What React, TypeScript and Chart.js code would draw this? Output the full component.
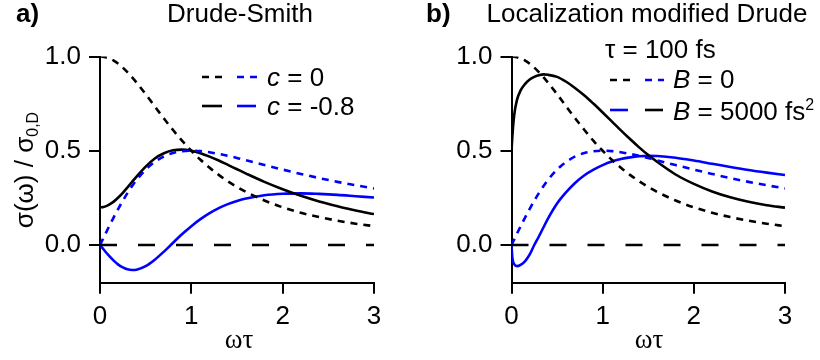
import React, { useEffect, useRef } from "react";
import { Chart, registerables } from "chart.js";

Chart.register(...registerables);

// ---- data ----
const omegaTau = [0, 0.01, 0.03, 0.06, 0.1, 0.15, 0.2, 0.25, 0.3, 0.35, 0.4, 0.5, 0.6, 0.7, 0.8, 0.9, 1.0, 1.1, 1.2, 1.3, 1.4, 1.5, 1.6, 1.8, 2.0, 2.2, 2.4, 2.6, 2.8, 3.0];

const drudeReal = [1.0, 1.0, 0.999, 0.996, 0.99, 0.978, 0.962, 0.941, 0.917, 0.891, 0.862, 0.8, 0.735, 0.671, 0.61, 0.552, 0.5, 0.452, 0.41, 0.372, 0.338, 0.308, 0.281, 0.236, 0.2, 0.171, 0.148, 0.129, 0.113, 0.1];
const drudeImag = [0, 0.01, 0.03, 0.06, 0.099, 0.147, 0.192, 0.235, 0.275, 0.312, 0.345, 0.4, 0.441, 0.47, 0.488, 0.497, 0.5, 0.498, 0.492, 0.483, 0.473, 0.462, 0.449, 0.424, 0.4, 0.377, 0.355, 0.335, 0.317, 0.3];

const smithReal = [0.2, 0.2, 0.201, 0.205, 0.214, 0.23, 0.252, 0.277, 0.305, 0.334, 0.363, 0.416, 0.459, 0.487, 0.503, 0.506, 0.5, 0.487, 0.469, 0.448, 0.425, 0.402, 0.379, 0.335, 0.296, 0.261, 0.231, 0.206, 0.183, 0.164];
const smithImag = [0, -0.006, -0.018, -0.036, -0.058, -0.083, -0.104, -0.119, -0.129, -0.133, -0.131, -0.112, -0.078, -0.035, 0.012, 0.058, 0.1, 0.137, 0.169, 0.196, 0.217, 0.234, 0.247, 0.264, 0.272, 0.274, 0.271, 0.266, 0.259, 0.252];

const locReal = [0.5, 0.58, 0.69, 0.77, 0.82, 0.855, 0.878, 0.892, 0.9, 0.905, 0.903, 0.892, 0.866, 0.832, 0.793, 0.749, 0.703, 0.656, 0.608, 0.562, 0.518, 0.477, 0.44, 0.374, 0.324, 0.284, 0.253, 0.229, 0.211, 0.198];
const locImag = [0, -0.07, -0.102, -0.112, -0.105, -0.085, -0.05, 0.0, 0.045, 0.093, 0.14, 0.22, 0.28, 0.33, 0.37, 0.4, 0.424, 0.443, 0.456, 0.465, 0.471, 0.473, 0.472, 0.463, 0.448, 0.431, 0.414, 0.398, 0.384, 0.371];

const zeroLineX = [0, 3];
const zeroLineY = [0, 0];

const xTickValues = [0, 1, 2, 3];
const yTickValues = [0, 0.5, 1.0];

// ---- styles ----
const BLUE = "rgb(0,0,255)";
const BLACK = "#000";
const SANS = '"Liberation Sans", Arial, Helvetica, sans-serif';
const SERIF = '"Liberation Serif", "Times New Roman", serif';
const FS = 26;
const SHORT_DASH = [7, 6];
const LONG_DASH = [17, 21];

type Part = { text: string; italic?: boolean; bold?: boolean; size?: number; dy?: number; family?: string };

function drawRich(ctx: CanvasRenderingContext2D, x: number, y: number, parts: Part[], align: "left" | "center" = "left") {
  const fontOf = (p: Part) =>
    `${p.italic ? "italic " : ""}${p.bold ? "bold " : ""}${p.size ?? FS}px ${p.family ?? SANS}`;
  let total = 0;
  for (const p of parts) {
    ctx.font = fontOf(p);
    total += ctx.measureText(p.text).width;
  }
  let cx = align === "center" ? x - total / 2 : x;
  ctx.textAlign = "left";
  ctx.textBaseline = "alphabetic";
  ctx.fillStyle = BLACK;
  for (const p of parts) {
    ctx.font = fontOf(p);
    ctx.fillText(p.text, cx, y + (p.dy ?? 0));
    cx += ctx.measureText(p.text).width;
  }
}

function seg(ctx: CanvasRenderingContext2D, x1: number, x2: number, y: number, color: string, dash: number[]) {
  ctx.save();
  ctx.strokeStyle = color;
  ctx.lineWidth = 2.6;
  ctx.setLineDash(dash);
  ctx.beginPath();
  ctx.moveTo(x1, y);
  ctx.lineTo(x2, y);
  ctx.stroke();
  ctx.restore();
}

function pts(xs: number[], ys: number[]) {
  return xs.map((x, i) => ({ x, y: ys[i] }));
}

type PanelSpec = {
  real: number[];
  imag: number[];
  yAxisWidth: number;
  padRight: number;
  decorate: (ctx: CanvasRenderingContext2D) => void;
};

function drawLeft(ctx: CanvasRenderingContext2D) {
  drawRich(ctx, 16, 22, [{ text: "a)", bold: true }]);
  drawRich(ctx, 240, 22, [{ text: "Drude-Smith" }], "center");
  seg(ctx, 202, 222, 77, BLACK, SHORT_DASH);
  seg(ctx, 237, 257, 77, BLUE, SHORT_DASH);
  drawRich(ctx, 267, 86, [{ text: "c", italic: true }, { text: " = 0" }]);
  seg(ctx, 202, 222, 106, BLACK, []);
  seg(ctx, 237, 256, 106, BLUE, []);
  drawRich(ctx, 267, 115, [{ text: "c", italic: true }, { text: " = -0.8" }]);
  // y-axis title
  ctx.save();
  ctx.translate(32.5, 170);
  ctx.rotate(-Math.PI / 2);
  drawRich(ctx, 0, 0, [{ text: "σ(ω) / σ" }, { text: "0,D", size: 16, dy: 5 }], "center");
  ctx.restore();
  drawRich(ctx, 239, 348, [{ text: "ωτ", family: SERIF, size: 27 }], "center");
}

function drawRight(ctx: CanvasRenderingContext2D) {
  drawRich(ctx, 16, 22, [{ text: "b)", bold: true }]);
  drawRich(ctx, 237, 22, [{ text: "Localization modified Drude" }], "center");
  drawRich(ctx, 195, 58, [{ text: "τ = 100 fs" }]);
  seg(ctx, 200, 220, 80, BLACK, SHORT_DASH);
  seg(ctx, 235, 254, 80, BLUE, SHORT_DASH);
  drawRich(ctx, 263, 88, [{ text: "B", italic: true }, { text: " = 0" }]);
  seg(ctx, 200, 218, 110, BLUE, []);
  seg(ctx, 235, 253, 110, BLACK, []);
  drawRich(ctx, 263, 120, [{ text: "B", italic: true }, { text: " = 5000 fs" }, { text: "2", size: 16, dy: -10 }]);
  drawRich(ctx, 239, 348, [{ text: "ωτ", family: SERIF, size: 27 }], "center");
}

function makeChart(canvas: HTMLCanvasElement, spec: PanelSpec) {
  const line = (data: { x: number; y: number }[], color: string, dash: number[], width = 2.6) => ({
    data,
    borderColor: color,
    borderWidth: width,
    borderDash: dash,
    pointRadius: 0,
    fill: false,
    cubicInterpolationMode: "monotone" as const,
  });
  const gridCfg = {
    drawOnChartArea: false,
    drawTicks: true,
    tickLength: 11,
    color: BLACK,
    lineWidth: 2,
    tickColor: BLACK,
    tickWidth: 2,
  };
  const textPlugin = {
    id: "panelText",
    afterDraw(chart: Chart) {
      const ctx = chart.ctx;
      ctx.save();
      spec.decorate(ctx);
      ctx.restore();
    },
  };
  return new Chart(canvas, {
    type: "line",
    data: {
      datasets: [
        line(pts(zeroLineX, zeroLineY), BLACK, LONG_DASH, 2.6),
        line(pts(omegaTau, drudeReal), BLACK, SHORT_DASH),
        line(pts(omegaTau, drudeImag), BLUE, SHORT_DASH),
        line(pts(omegaTau, spec.real), BLACK, []),
        line(pts(omegaTau, spec.imag), BLUE, []),
      ] as any,
    },
    options: {
      animation: false,
      responsive: false,
      devicePixelRatio: 1,
      events: [],
      layout: { padding: { left: 0, right: spec.padRight, top: 56.5, bottom: 0 } },
      plugins: { legend: { display: false }, title: { display: false }, tooltip: { enabled: false } },
      scales: {
        x: {
          type: "linear",
          min: 0,
          max: 3,
          afterBuildTicks: (s: any) => {
            s.ticks = xTickValues.map((v) => ({ value: v }));
          },
          afterFit: (s: any) => {
            s.height = 77.3;
          },
          grid: gridCfg,
          border: { display: true, color: BLACK, width: 2 },
          ticks: {
            color: BLACK,
            font: { family: SANS, size: FS },
            padding: 8,
            maxRotation: 0,
            autoSkip: false,
            callback: (v: any) => String(v),
          },
        },
        y: {
          type: "linear",
          min: -0.2,
          max: 1.0,
          afterBuildTicks: (s: any) => {
            s.ticks = yTickValues.map((v) => ({ value: v }));
          },
          afterFit: (s: any) => {
            s.width = spec.yAxisWidth;
          },
          grid: gridCfg,
          border: { display: true, color: BLACK, width: 2 },
          ticks: {
            color: BLACK,
            font: { family: SANS, size: FS },
            padding: 8,
            autoSkip: false,
            callback: (v: any) => Number(v).toFixed(1),
          },
        },
      },
    } as any,
    plugins: [textPlugin],
  });
}

export default function App() {
  const leftRef = useRef<HTMLCanvasElement>(null);
  const rightRef = useRef<HTMLCanvasElement>(null);

  useEffect(() => {
    const a = makeChart(leftRef.current!, {
      real: smithReal,
      imag: smithImag,
      yAxisWidth: 100,
      padRight: 36,
      decorate: drawLeft,
    });
    const b = makeChart(rightRef.current!, {
      real: locReal,
      imag: locImag,
      yAxisWidth: 101.5,
      padRight: 35,
      decorate: drawRight,
    });
    return () => {
      a.destroy();
      b.destroy();
    };
  }, []);

  return (
    <div style={{ position: "absolute", left: 0, top: 0, width: 820, height: 360, background: "#fff" }}>
      <canvas ref={leftRef} width={410} height={360} style={{ position: "absolute", left: 0, top: 0, display: "block" }} />
      <canvas ref={rightRef} width={410} height={360} style={{ position: "absolute", left: 410, top: 0, display: "block" }} />
    </div>
  );
}
